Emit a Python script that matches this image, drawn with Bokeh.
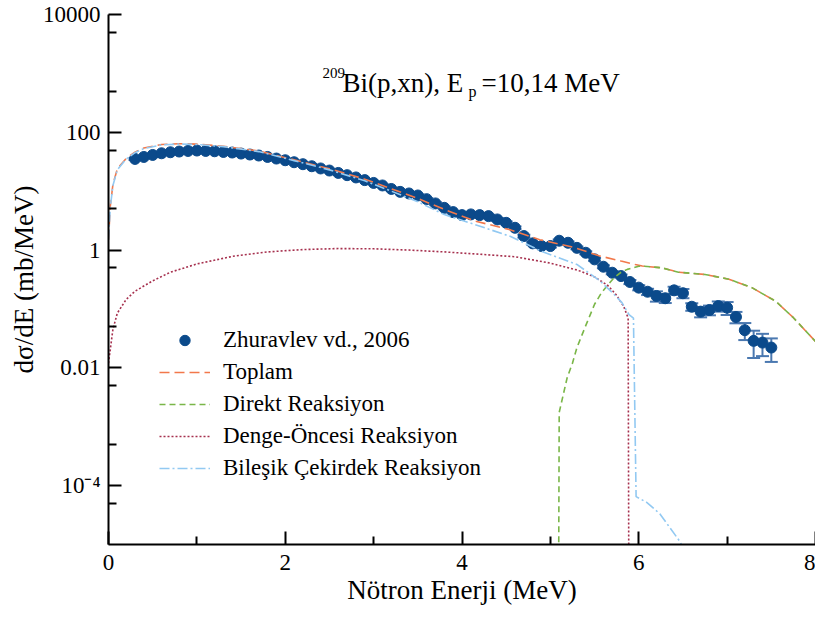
from bokeh.plotting import figure
from bokeh.models import (ColumnDataSource, Whisker, TeeHead, FixedTicker,
                          Legend, LegendItem, Label)
from bokeh.embed import file_html
from bokeh.resources import INLINE

# --- measured spectrum: 209Bi(p,xn), Ep = 10.14 MeV (Zhuravlev et al., 2006) ---
energy = [0.3, 0.4, 0.5, 0.6, 0.7, 0.8, 0.9, 1.0,
          1.1, 1.2, 1.3, 1.4, 1.5, 1.6, 1.7, 1.8, 1.9, 2.0,
          2.1, 2.2, 2.3, 2.4, 2.5, 2.6, 2.7, 2.8, 2.9, 3.0,
          3.1, 3.2, 3.3, 3.4, 3.5, 3.6, 3.7, 3.8, 3.9, 4.0,
          4.1, 4.2, 4.3, 4.4, 4.5, 4.6, 4.7, 4.8, 4.9, 5.0,
          5.1, 5.2, 5.3, 5.4, 5.5, 5.6, 5.7, 5.8,
          5.9, 6.0, 6.1, 6.2, 6.3, 6.4, 6.5, 6.6, 6.7, 6.8, 6.9, 7.0,
          7.1, 7.2, 7.3, 7.4, 7.5]
dsigma = [35.3, 38.1, 41.2, 44.0, 45.8, 47.1, 48.2, 49.0,
          48.2, 47.6, 46.3, 45.3, 43.5, 41.9, 40.3, 38.1, 35.8, 33.5,
          31.0, 28.7, 26.5, 24.3, 22.4, 20.4, 18.7, 17.1, 15.4, 13.8,
          12.5, 10.9, 9.73, 9.14, 8.45, 7.32, 6.19, 5.21, 4.41, 3.92,
          4.03, 3.92, 3.77, 3.31, 2.90, 2.39, 1.73, 1.30, 1.17, 1.17,
          1.44, 1.33, 1.09, 0.90, 0.695, 0.521, 0.412, 0.362,
          0.287, 0.230, 0.196, 0.166, 0.152, 0.207, 0.185, 0.109, 0.090, 0.096, 0.112, 0.105,
          0.073, 0.0436, 0.0287, 0.0268, 0.0221]
dsigma_err = [1.4, 1.5, 1.6, 1.8, 1.8, 1.9, 1.9, 2.0,
              1.9, 1.9, 1.9, 1.8, 1.7, 1.7, 1.6, 1.5, 1.4, 1.3,
              1.2, 1.1, 1.1, 1.0, 0.9, 0.8, 0.7, 0.7, 0.6, 0.6,
              0.5, 0.5, 0.4, 0.4, 0.4, 0.3, 0.3, 0.3, 0.2, 0.2,
              0.2, 0.2, 0.2, 0.2, 0.15, 0.12, 0.09, 0.07, 0.06, 0.06,
              0.07, 0.07, 0.06, 0.05, 0.04, 0.03, 0.025, 0.022,
              0.023, 0.023, 0.024, 0.033, 0.026, 0.031, 0.033, 0.016, 0.018, 0.018, 0.022, 0.026,
              0.016, 0.014, 0.014, 0.011, 0.0095]

# --- model calculations ---
toplam_e = [0.0, 0.02, 0.05, 0.1, 0.2, 0.3, 0.4, 0.6, 0.8, 1.0, 1.3, 1.7, 2.1, 2.5,
            2.9, 3.2, 3.5, 3.8, 4.15, 4.55, 4.88, 5.26, 5.55, 5.8, 5.96, 6.04, 6.26,
            6.45, 6.75, 7.02, 7.28, 7.55, 7.75, 8.0]
toplam = [1.5, 5.5, 13, 24, 36, 46, 54, 62, 64, 63, 58, 48, 34, 24,
          16, 11, 7.5, 4.9, 3.1, 2.2, 1.5, 1.12, 0.80, 0.65, 0.57, 0.535, 0.50,
          0.42, 0.385, 0.32, 0.23, 0.135, 0.071, 0.028]

direkt_e = [5.09, 5.10, 5.19, 5.25, 5.30, 5.40, 5.50, 5.58, 5.72, 5.80, 5.87, 6.0,
            6.04, 6.26, 6.45, 6.75, 7.02, 7.28, 7.55, 7.75, 8.0]
direkt = [1e-7, 1.75e-3, 6.8e-3, 0.012, 0.022, 0.052, 0.12, 0.19, 0.34, 0.42, 0.47, 0.53,
          0.535, 0.50, 0.42, 0.385, 0.32, 0.23, 0.135, 0.071, 0.028]

denge_e = [0.0, 0.05, 0.1, 0.2, 0.3, 0.5, 0.7, 1.0, 1.4, 1.8, 2.2, 2.6, 3.0, 3.4,
           3.8, 4.2, 4.6, 5.0, 5.3, 5.5, 5.65, 5.75, 5.83, 5.88, 5.89]
denge = [0.012, 0.045, 0.085, 0.145, 0.2, 0.3, 0.42, 0.58, 0.78, 0.93, 1.02, 1.06, 1.05, 1.0,
         0.93, 0.85, 0.77, 0.6, 0.46, 0.35, 0.25, 0.17, 0.11, 0.07, 1e-7]

bilesik_e = [0.0, 0.02, 0.05, 0.1, 0.2, 0.3, 0.4, 0.6, 0.8, 1.0, 1.3, 1.7, 2.1, 2.5,
             2.9, 3.2, 3.5, 3.8, 4.15, 4.55, 4.9, 5.3, 5.56, 5.7, 5.81, 5.89, 5.94,
             5.97, 6.09, 6.24, 6.47, 6.6]
bilesik = [1.5, 5.2, 12.5, 23, 35, 45, 53, 61, 63, 62, 57, 47, 33, 23,
           15, 10, 6.6, 4.0, 2.7, 1.7, 0.95, 0.57, 0.30, 0.19, 0.128, 0.08, 0.07,
           6.5e-5, 5.2e-5, 3.3e-5, 1.1e-5, 4e-6]

# --- axis ticks ---
x_ticks = [0, 2, 4, 6, 8]
x_minor = [1, 3, 5, 7]
y_ticks = [1e-4, 1e-2, 1, 100, 10000]
y_tick_labels = ["10\u207b\u2074", "0.01", "1", "100", "10000"]
y_minor = [5e-5, 5e-4, 5e-3, 5e-2, 0.5, 5, 50, 500, 5000]

FONT = "Liberation Serif"
C_PTS = "#0b4a8b"
C_ERR = "#4a78b0"
C_TOP = "#f2784b"
C_DIR = "#7ab648"
C_PRE = "#a6304e"
C_CMP = "#92c9f2"

p = figure(width=815, height=617, x_range=(0, 8), y_range=(1e-5, 1e4),
           y_axis_type="log", output_backend="svg", toolbar_location=None,
           min_border_left=108, min_border_right=0, min_border_top=14,
           min_border_bottom=73)
p.outline_line_color = None
p.grid.visible = False

xa = p.xaxis[0]
ya = p.yaxis[0]
xa.ticker = FixedTicker(ticks=x_ticks, minor_ticks=x_minor)
ya.ticker = FixedTicker(ticks=y_ticks, minor_ticks=y_minor)
ya.major_label_overrides = {t: s for t, s in zip(y_ticks, y_tick_labels)}
xa.axis_label = "Nötron Enerji (MeV)"
ya.axis_label = "dσ/dE (mb/MeV)"

for ax in (xa, ya):
    ax.axis_line_width = 2
    ax.major_tick_line_width = 2
    ax.minor_tick_line_width = 2
    ax.major_tick_in = 13
    ax.major_tick_out = 0
    ax.minor_tick_in = 8
    ax.minor_tick_out = 0
    ax.major_label_text_font = FONT
    ax.major_label_text_font_size = "23px"
    ax.major_label_text_color = "black"
    ax.axis_label_text_font = FONT
    ax.axis_label_text_font_size = "27px"
    ax.axis_label_text_font_style = "normal"
    ax.axis_label_text_color = "black"
xa.major_label_standoff = 10
xa.axis_label_standoff = 2
ya.major_label_standoff = 8
ya.axis_label_standoff = 1

# experimental points with error bars
upper = [v + e for v, e in zip(dsigma, dsigma_err)]
lower = [v - e for v, e in zip(dsigma, dsigma_err)]
src = ColumnDataSource(dict(x=energy, y=dsigma, upper=upper, lower=lower))
whisk = Whisker(source=src, base="x", upper="upper", lower="lower", dimension="height",
                line_color=C_ERR, line_width=2, level="underlay",
                upper_head=TeeHead(size=13, line_color=C_ERR, line_width=2),
                lower_head=TeeHead(size=13, line_color=C_ERR, line_width=2))
p.add_layout(whisk)
pts = p.scatter("x", "y", source=src, size=11, fill_color=C_PTS, line_color=C_PTS)

# model curves
r_top = p.line(toplam_e, toplam, line_color=C_TOP, line_width=1.6, line_dash="10 5")
r_dir = p.line(direkt_e, direkt, line_color=C_DIR, line_width=1.6, line_dash="6 4")
r_pre = p.line(denge_e, denge, line_color=C_PRE, line_width=1.6, line_dash="2 2")
r_cmp = p.line(bilesik_e, bilesik, line_color=C_CMP, line_width=1.6, line_dash="10 3 2 3")

legend = Legend(items=[
    LegendItem(label="Zhuravlev vd., 2006", renderers=[pts]),
    LegendItem(label="Toplam", renderers=[r_top]),
    LegendItem(label="Direkt Reaksiyon", renderers=[r_dir]),
    LegendItem(label="Denge-Öncesi Reaksiyon", renderers=[r_pre]),
    LegendItem(label="Bileşik Çekirdek Reaksiyon", renderers=[r_cmp]),
], location=(51, 63))
legend.background_fill_alpha = 0
legend.border_line_color = None
legend.padding = 0
legend.margin = 0
legend.spacing = 6
legend.glyph_width = 51
legend.glyph_height = 26
legend.label_height = 26
legend.label_standoff = 13
legend.label_text_font = FONT
legend.label_text_font_size = "23px"
legend.label_text_color = "black"
p.add_layout(legend)

# reaction title, built from pieces for the superscript and subscript
title_parts = [
    ("209", 214, 472, "15px"),
    ("Bi(p,xn), E", 234, 462, "27px"),
    ("p", 360, 453, "16px"),
    ("=10,14 MeV", 373, 462, "27px"),
]
for txt, sx, sy, fs in title_parts:
    p.add_layout(Label(x=sx, y=sy, x_units="screen", y_units="screen", text=txt,
                       text_font=FONT, text_font_size=fs, text_color="black",
                       text_align="left", text_baseline="alphabetic"))

open("out.html", "w").write(file_html(p, INLINE))
